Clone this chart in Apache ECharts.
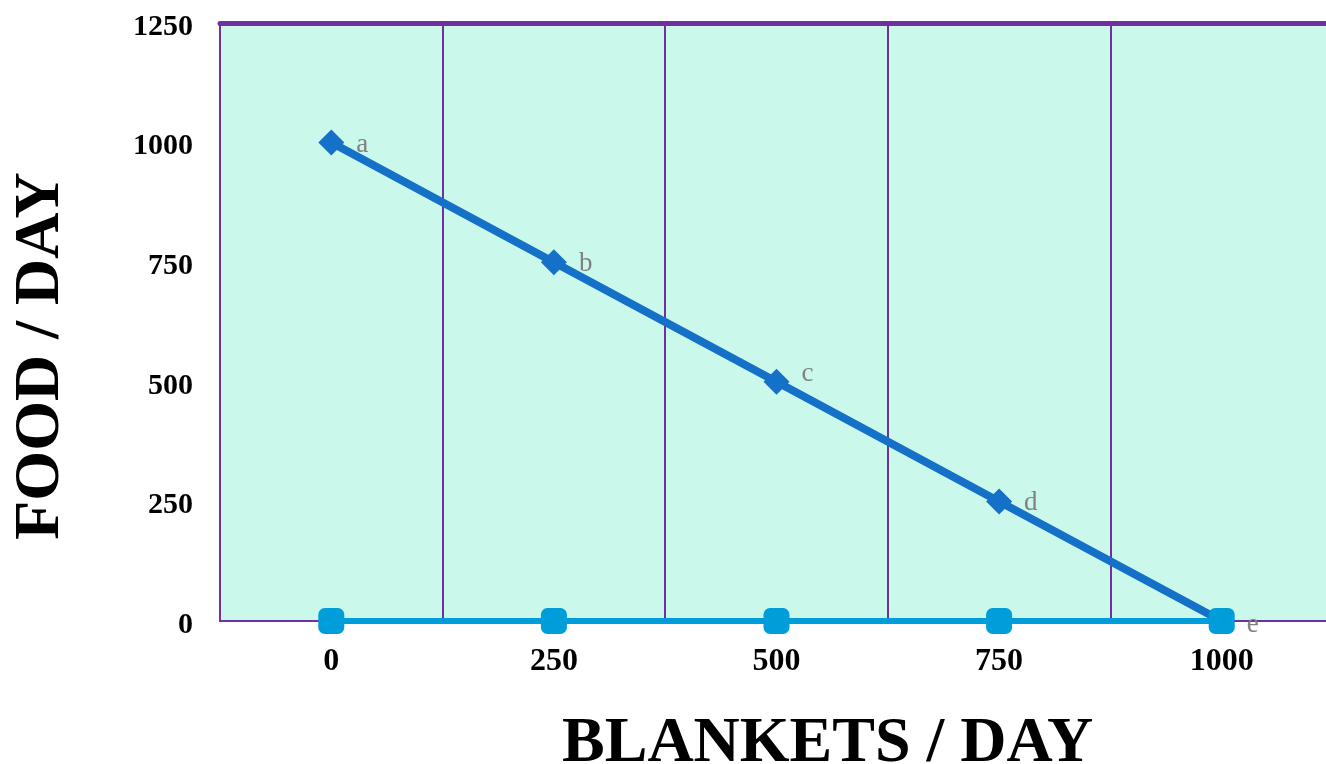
<!DOCTYPE html>
<html><head><meta charset="utf-8">
<script src="https://cdn.jsdelivr.net/npm/echarts@6/dist/echarts.min.js"></script>
<style>html,body{margin:0;padding:0;background:#fff}#c{width:1326px;height:764px}</style>
</head><body><div id="c"></div>
<script>
const categories = ['0', '250', '500', '750', '1000'];
const frontier = [1000, 750, 500, 250, 0];
const baseline = [0, 0, 0, 0, 0];
const pointLabels = ['a', 'b', 'c', 'd', 'e'];
const yTicks = { min: 0, max: 1250, interval: 250 };
const xTitle = 'BLANKETS / DAY';
const yTitle = 'FOOD / DAY';

const chart = echarts.init(document.getElementById('c'));
const serif = '"Liberation Serif", "DejaVu Serif", serif';
chart.setOption({
  animation: false,
  backgroundColor: '#ffffff',
  grid: { left: 220, right: -7, top: 23, bottom: 143, show: true,
          containLabel: false, outerBoundsMode: 'none',
          backgroundColor: '#CAF8EB', borderColor: '#7030A0', borderWidth: 2 },
  xAxis: [{
    type: 'category', data: categories, boundaryGap: true, position: 'bottom',
    axisLine: { show: true, lineStyle: { color: '#7030A0', width: 2 } },
    axisTick: { show: false },
    splitLine: { show: true, interval: 0, lineStyle: { color: '#7030A0', width: 2 } },
    axisLabel: { color: '#000', fontFamily: serif, fontWeight: 'bold', fontSize: 32, margin: 25 }
  }, {
    type: 'category', data: categories, position: 'top',
    axisLine: { show: true, lineStyle: { color: '#7030A0', width: 5 } },
    axisTick: { show: false }, axisLabel: { show: false }, splitLine: { show: false }
  }],
  yAxis: {
    type: 'value', min: yTicks.min, max: yTicks.max, interval: yTicks.interval,
    axisLine: { show: false }, axisTick: { show: false }, splitLine: { show: false },
    axisLabel: { color: '#000', fontFamily: serif, fontWeight: 'bold', fontSize: 30, margin: 27,
                 formatter: v => '{t|' + v + '}',
                 rich: { t: { fontFamily: serif, fontWeight: 'bold', fontSize: 30,
                              color: '#000', padding: [8, 0, 0, 0] } } }
  },
  graphic: [{
    type: 'text', left: 825 - 263, top: 712,
    style: { text: xTitle, fill: '#000', font: 'bold 64px ' + serif }
  }, {
    type: 'text', x: 41, y: 356, rotation: Math.PI / 2,
    style: { text: yTitle, fill: '#000', font: 'bold 64px ' + serif,
             align: 'center', verticalAlign: 'middle' }
  }],
  series: [{
    type: 'line', data: frontier.map((v, i) => ({ value: v,
      label: { offset: i === 2 ? [0, -8] : (i === 4 ? [0, 4] : [0, 2]) } })),
    symbol: 'diamond', symbolSize: 26,
    lineStyle: { color: '#1570C8', width: 8 },
    itemStyle: { color: '#1570C8' },
    label: { show: true, position: 'right', distance: 12, color: '#808080',
             fontFamily: serif, fontSize: 27,
             formatter: p => pointLabels[p.dataIndex] },
    z: 3
  }, {
    type: 'line', data: baseline, symbol: 'roundRect', symbolSize: 26,
    lineStyle: { color: '#009DDB', width: 6 },
    itemStyle: { color: '#009DDB' },
    z: 4
  }]
});
</script></body></html>
